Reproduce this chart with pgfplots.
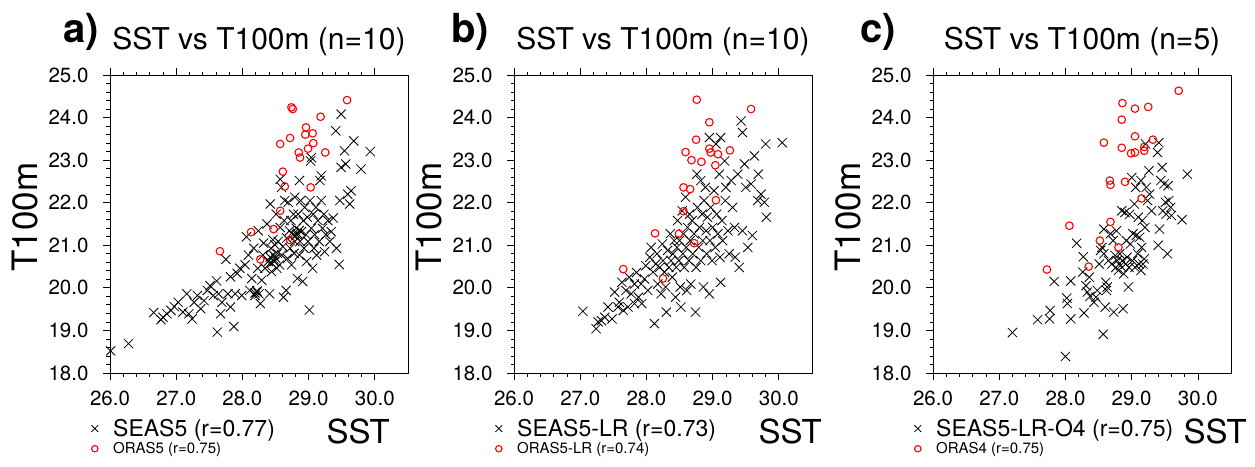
\documentclass[border=0pt]{standalone}
\usepackage{pgfplots}
\pgfplotsset{compat=1.18}
\usepackage{fontspec}
\setmainfont{TeX Gyre Heros}
\pgfplotsset{
  panel/.style={
    at={(#1,-75pt)}, anchor=north west,
    scale only axis, width=298pt, height=298pt,
    xmin=26, xmax=30.5, ymin=18, ymax=25,
    xtick={26,27,28,29,30}, ytick={18,19,20,21,22,23,24,25},
    minor x tick num=4, minor y tick num=4,
    tick align=outside,
    xtick pos=both, ytick pos=left, xticklabel pos=lower,
    major tick length=7pt, minor tick length=3.5pt,
    axis line style={line width=0.9pt},
    every tick/.style={black, line width=0.8pt},
    /pgf/number format/fixed, /pgf/number format/fixed zerofill,
    /pgf/number format/precision=1, /pgf/number format/assume math mode=true,
    tick label style={font=\fontsize{20.5}{21}\selectfont},
    xticklabel style={yshift=-7pt},
    yticklabel style={xshift=-11pt},
    title style={font=\fontsize{30}{30}\selectfont, at={(0.5,1)}, anchor=base, yshift=20pt},
    every axis y label/.style={at={(axis description cs:-0.285,0.5235)}, rotate=90, anchor=center, font=\fontsize{35}{35}\selectfont},
    ylabel={T100m},
    clip=false,
    legend cell align=left,
    legend style={draw=none, fill=none, inner sep=0pt, row sep=2.5pt, column sep=14pt, nodes={inner sep=1pt}, anchor=north west, at={(-0.063,-0.151)}},
  },
  blk/.style={only marks, mark=x, black, mark size=6.5pt, line width=0.8pt,
     legend image code/.code={\draw[##1, mark size=4.8pt] plot coordinates {(0pt,0pt)};}},
  rd/.style={only marks, mark=o, red, mark size=3.8pt, line width=1.1pt,
     legend image code/.code={\draw[##1, mark size=3.2pt] plot coordinates {(0pt,0pt)};}},
}
\begin{document}
\begin{tikzpicture}
\path[use as bounding box] (0pt,0pt) rectangle (1255pt,-466pt);
\node[anchor=base west, font=\fontsize{40}{40}\selectfont\bfseries] at (60pt,-42pt) {a)};
\node[anchor=base west, font=\fontsize{40}{40}\selectfont\bfseries] at (448pt,-42pt) {b)};
\node[anchor=base west, font=\fontsize{40}{40}\selectfont\bfseries] at (857pt,-42pt) {c)};
% ---------------- panel a
\begin{axis}[panel=110pt, title={SST vs T100m (n=10)}]
\addplot[blk] table {
x y
26.01 18.52
26.28 18.69
26.66 19.42
26.77 19.25
26.80 19.31
26.86 19.39
26.92 19.47
26.97 19.56
27.03 19.66
27.10 19.43
27.16 19.86
27.19 19.39
27.24 19.27
27.27 19.66
27.32 19.82
27.37 19.51
27.42 19.70
27.47 19.94
27.51 20.05
27.56 19.82
27.61 20.16
27.62 18.96
27.64 19.86
27.67 19.39
27.69 19.66
27.75 20.67
27.78 19.86
27.82 19.55
27.82 20.26
27.87 19.09
27.89 19.86
27.92 20.34
27.96 20.46
27.99 19.82
28.04 20.54
28.06 21.20
28.09 20.77
28.11 19.94
28.14 20.22
28.17 20.93
28.19 19.82
28.22 19.90
28.19 19.88
28.22 19.93
28.25 19.86
28.23 20.46
28.24 21.34
28.27 19.63
28.29 20.18
28.31 20.77
28.32 21.05
28.34 20.46
28.37 21.50
28.39 20.62
28.41 19.86
28.42 21.97
28.43 20.93
28.44 20.38
28.46 21.13
28.47 20.77
28.48 20.62
28.49 21.01
28.42 20.72
28.46 20.66
28.50 20.70
28.44 20.58
28.51 21.73
28.52 20.46
28.53 20.81
28.54 21.09
28.56 20.54
28.57 22.55
28.57 21.42
28.59 22.36
28.59 20.77
28.61 20.97
28.62 19.78
28.63 21.58
28.64 22.05
28.66 19.94
28.67 21.17
28.68 20.69
28.69 22.01
28.71 21.34
28.72 20.93
28.73 21.58
28.74 20.54
28.76 21.25
28.77 21.73
28.78 20.81
28.79 22.13
28.79 21.09
28.81 21.40
28.82 21.25
28.83 21.28
28.86 21.35
28.80 21.22
28.83 20.22
28.84 21.73
28.86 22.52
28.86 20.77
28.87 21.09
28.88 22.05
28.89 21.32
28.91 20.15
28.92 21.58
28.93 20.93
28.94 21.89
28.96 21.25
28.97 20.62
28.98 21.66
28.99 21.09
29.01 19.48
29.02 22.05
29.03 22.98
29.04 23.06
29.04 21.40
29.06 20.46
29.07 21.73
29.08 20.93
29.09 21.25
29.11 21.89
29.12 20.77
29.14 21.58
29.16 21.09
29.17 22.52
29.19 22.63
29.19 22.05
29.21 21.40
29.23 21.73
29.24 20.85
29.26 21.25
29.29 21.58
29.32 21.09
29.34 21.32
29.37 21.64
29.41 23.69
29.42 20.93
29.46 20.55
29.47 22.05
29.49 24.08
29.49 22.83
29.54 23.22
29.56 22.91
29.59 22.20
29.62 21.97
29.64 22.28
29.68 23.45
29.79 22.79
29.93 23.20
};
\addplot[rd] table {
x y
29.58 24.41
28.74 24.24
28.76 24.20
29.18 24.02
28.96 23.77
28.95 23.60
29.06 23.63
28.72 23.52
28.57 23.38
29.07 23.40
28.99 23.27
28.85 23.18
28.87 23.06
29.25 23.18
28.61 22.73
28.64 22.38
29.03 22.36
28.57 21.81
28.13 21.31
28.47 21.38
28.72 21.12
27.66 20.86
28.27 20.67
};
\legend{\fontsize{23}{23}\selectfont SEAS5 (r=0.77), \fontsize{15}{15}\selectfont ORAS5 (r=0.75)}
\node[anchor=base west, font=\fontsize{33}{33}\selectfont] at (axis description cs:0.715,-0.235) {SST};
\end{axis}
% ---------------- panel b
\begin{axis}[panel=514pt, title={SST vs T100m (n=10)}]
\addplot[blk] table {
x y
27.04 19.45
27.24 19.04
27.27 19.20
27.32 19.23
27.37 19.31
27.42 19.55
27.48 19.27
27.52 19.90
27.57 19.55
27.59 19.66
27.63 20.13
27.65 19.47
27.69 19.94
27.72 19.55
27.74 20.25
27.77 19.86
27.82 19.63
27.82 20.09
27.85 20.36
27.88 19.78
27.92 20.09
27.93 19.63
27.97 20.21
27.99 20.52
28.02 19.94
28.05 20.72
28.07 20.95
28.10 20.37
28.12 19.16
28.14 20.56
28.16 20.80
28.17 20.09
28.20 20.48
28.22 19.86
28.24 21.03
28.25 20.64
28.27 20.37
28.29 20.02
28.30 19.43
28.32 20.88
28.34 20.48
28.36 21.27
28.37 20.64
28.39 20.25
28.40 20.80
28.42 21.11
28.44 19.78
28.45 20.48
28.46 20.95
28.47 21.58
28.49 20.64
28.50 21.11
28.51 20.02
28.52 19.55
28.54 21.81
28.55 20.80
28.56 21.27
28.57 20.48
28.59 22.13
28.60 20.95
28.61 19.94
28.62 21.42
28.64 20.64
28.65 21.73
28.66 21.11
28.67 20.09
28.69 21.58
28.70 20.80
28.72 21.27
28.74 19.43
28.75 20.48
28.76 22.67
28.77 21.89
28.79 20.95
28.80 21.42
28.82 22.52
28.82 20.64
28.84 21.73
28.85 21.11
28.86 20.02
28.87 22.05
28.89 22.36
28.90 21.34
28.91 20.80
28.92 21.66
28.95 19.86
28.95 23.53
28.96 21.11
28.97 21.89
28.99 20.64
29.00 21.42
29.02 22.28
29.04 20.95
29.05 23.38
29.06 21.73
29.08 21.27
29.10 22.67
29.11 20.72
29.12 23.53
29.12 20.13
29.14 21.58
29.15 21.11
29.18 22.98
29.19 22.05
29.20 22.36
29.23 21.34
29.25 20.80
29.28 22.52
29.30 21.89
29.33 21.42
29.34 20.72
29.38 22.67
29.40 20.48
29.43 23.92
29.45 23.65
29.45 21.34
29.48 22.91
29.50 22.36
29.53 20.95
29.58 22.44
29.60 21.23
29.63 23.10
29.68 22.05
29.69 22.67
29.73 22.20
29.78 22.01
29.80 23.38
29.81 21.66
30.05 23.41
};
\addplot[rd] table {
x y
28.76 24.42
29.58 24.20
28.95 23.89
28.75 23.48
28.95 23.27
28.97 23.18
29.08 23.14
29.26 23.23
28.59 23.19
28.68 23.00
28.83 22.96
29.04 22.88
28.56 22.36
28.66 22.32
29.05 22.06
28.56 21.80
28.13 21.28
28.49 21.27
28.72 21.05
27.65 20.44
28.25 20.22
};
\legend{\fontsize{23}{23}\selectfont SEAS5-LR (r=0.73), \fontsize{15}{15}\selectfont ORAS5-LR (r=0.74)}
\node[anchor=base west, font=\fontsize{33}{33}\selectfont] at (axis description cs:0.809,-0.235) {SST};
\end{axis}
% ---------------- panel c
\begin{axis}[panel=933pt, title={SST vs T100m (n=5)}]
\addplot[blk] table {
x y
27.20 18.95
27.58 19.25
27.76 19.27
27.77 19.47
27.83 20.15
28.02 19.76
28.03 19.63
28.08 19.27
28.08 20.16
28.00 18.39
28.17 21.05
28.27 20.73
28.28 19.41
28.26 20.37
28.31 20.05
28.33 19.90
28.36 20.25
28.37 19.80
28.43 19.66
28.46 19.78
28.48 19.94
28.51 20.56
28.53 20.88
28.55 20.95
28.57 18.91
28.58 20.80
28.58 21.38
28.60 19.55
28.61 20.13
28.62 19.94
28.63 20.02
28.65 20.64
28.68 21.27
28.70 20.56
28.72 21.11
28.73 19.43
28.75 20.76
28.76 20.48
28.77 21.34
28.78 20.64
28.80 20.41
28.82 20.80
28.83 20.52
28.85 21.81
28.86 20.64
28.87 19.51
28.88 20.33
28.90 21.77
28.91 20.56
28.92 21.11
28.93 20.72
28.95 20.02
28.96 20.48
28.97 21.73
28.98 21.03
29.00 22.59
29.01 20.64
29.02 21.27
29.04 21.97
29.05 20.48
29.06 22.36
29.07 21.23
29.09 20.80
29.10 21.66
29.11 20.56
29.12 21.19
29.14 22.52
29.14 20.41
29.15 20.95
29.16 21.58
29.17 20.56
29.19 20.68
29.20 21.42
29.21 23.38
29.22 22.36
29.24 22.05
29.26 22.75
29.27 22.20
29.30 21.81
29.39 23.18
29.40 21.00
29.41 23.41
29.42 21.38
29.44 22.52
29.46 22.83
29.47 21.81
29.49 22.44
29.51 22.01
29.52 21.73
29.54 20.80
29.55 22.40
29.56 22.05
29.59 21.89
29.60 21.70
29.76 21.60
29.84 22.67
};
\addplot[rd] table {
x y
29.71 24.63
28.86 24.34
29.05 24.21
29.25 24.25
28.85 23.95
29.05 23.56
29.32 23.48
28.58 23.41
28.85 23.29
28.99 23.16
29.05 23.18
29.19 23.31
29.19 23.22
28.67 22.52
28.68 22.42
28.90 22.49
29.15 22.10
28.68 21.55
28.06 21.46
28.52 21.11
28.80 20.95
28.35 20.50
27.72 20.43
};
\legend{\fontsize{23}{23}\selectfont SEAS5-LR-O4 (r=0.75), \fontsize{15}{15}\selectfont ORAS4 (r=0.75)}
\node[anchor=base west, font=\fontsize{33}{33}\selectfont] at (axis description cs:0.829,-0.235) {SST};
\end{axis}
\end{tikzpicture}
\end{document}
